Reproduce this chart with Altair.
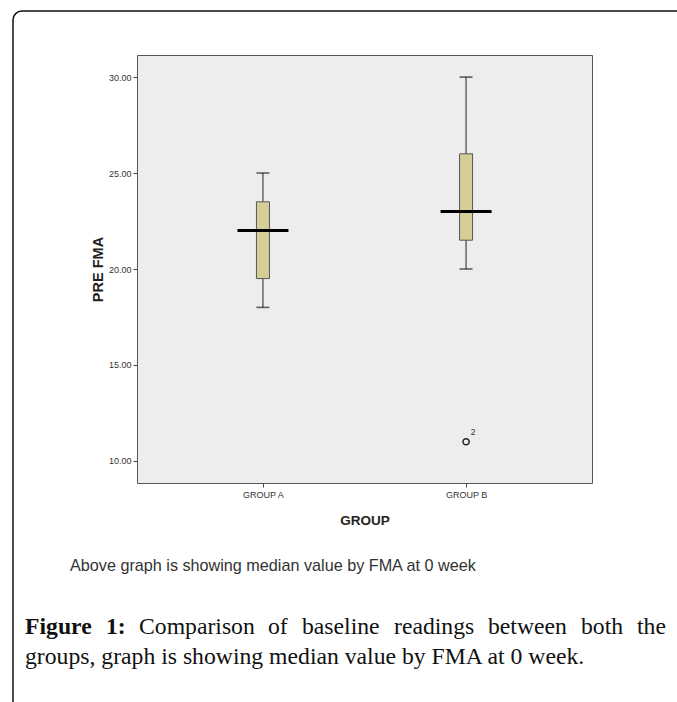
import altair as alt
import pandas as pd

# ---- data ----
groups = ["GROUP A", "GROUP B"]
whisker_low = [18.0, 20.0]
q1 = [19.5, 21.5]
median = [22.0, 23.0]
q3 = [23.5, 26.0]
whisker_high = [25.0, 30.0]

outlier_group = ["GROUP B"]
outlier_value = [11.0]
outlier_label = ["2"]

y_ticks = [10, 15, 20, 25, 30]

note_text = "Above graph is showing median value by FMA at 0 week"
fig_line1_bold = ["Figure", "1:"]
fig_line1_words = ["Comparison", "of", "baseline", "readings", "between", "both", "the"]
fig_line2 = "groups, graph is showing median value by FMA at 0 week."

# ---- tables ----
box_df = pd.DataFrame({
    "group": groups, "lo": whisker_low, "q1": q1, "med": median,
    "q3": q3, "hi": whisker_high,
})
out_df = pd.DataFrame({"group": outlier_group, "value": outlier_value, "label": outlier_label})
one = pd.DataFrame({"k": [0]})

W, H = 455, 428
BOX_FILL = "#d5ce96"
SERIF_SIZE = 23.7

x_enc = alt.X("group:N", scale=alt.Scale(type="point", padding=0.62, domain=groups),
              axis=alt.Axis(title="GROUP", labelAngle=0, labelFontSize=9, labelColor="#333",
                            labelFont="Liberation Sans", tickSize=4, tickColor="#444",
                            domain=False, labelPadding=3,
                            titleFont="Liberation Sans", titleFontSize=13.5, titleFontWeight="bold",
                            titleColor="#222", titleY=37, titleBaseline="middle"))
y_scale = alt.Scale(domain=[8.85, 31.15], nice=False, zero=False)
y_axis = alt.Axis(title="PRE FMA", values=y_ticks, format=".2f", labelFontSize=9,
                  labelColor="#333", labelFont="Liberation Sans", tickSize=4, tickColor="#444",
                  domain=False, grid=False, labelPadding=2,
                  titleFont="Liberation Sans", titleFontSize=14.5, titleFontWeight="bold",
                  titleColor="#222", titleAngle=270, titleX=-39, titleY=H / 2,
                  titleAlign="center", titleBaseline="middle")

base = alt.Chart(box_df)

whisker = base.mark_rule(color="#444", strokeWidth=1.2).encode(
    x=x_enc, y=alt.Y("lo:Q", scale=y_scale, axis=y_axis), y2="hi:Q")
cap_lo = base.mark_tick(color="#222", size=13, thickness=1.6).encode(x="group:N", y="lo:Q")
cap_hi = base.mark_tick(color="#222", size=13, thickness=1.6).encode(x="group:N", y="hi:Q")
box = base.mark_bar(size=13, fill=BOX_FILL, stroke="#555", strokeWidth=1).encode(
    x="group:N", y="q1:Q", y2="q3:Q")
med = base.mark_tick(color="#000", size=51, thickness=3, opacity=1).encode(x="group:N", y="med:Q")

outl = alt.Chart(out_df).mark_point(shape="circle", filled=False, size=38, color="#222",
                                    strokeWidth=1.5, opacity=1).encode(x="group:N", y="value:Q")
outl_lbl = alt.Chart(out_df).mark_text(fontSize=8.5, dx=7, dy=-10, color="#333",
                                       font="Liberation Sans").encode(
    x="group:N", y="value:Q", text="label:N")

# decorative frame of the figure panel
frame = alt.Chart(one).mark_rect(fillOpacity=0, stroke="#111", strokeWidth=1.5,
                                 cornerRadius=9).encode(
    x=alt.value(-124), x2=alt.value(563), y=alt.value(-44), y2=alt.value(665))

# captions (positions relative to the plot's top-left corner at 137,55)
texts = []
texts.append(alt.Chart(one).mark_text(text=note_text, align="left", baseline="middle",
                                      font="Liberation Sans", fontSize=16.2, color="#333").encode(
    x=alt.value(70 - 137), y=alt.value(566 - 55)))
bold_x = [25, 106]
for word, xx in zip(fig_line1_bold, bold_x):
    texts.append(alt.Chart(one).mark_text(text=word, align="left", baseline="middle",
                                          font="Liberation Serif", fontSize=SERIF_SIZE,
                                          fontWeight="bold", color="#111").encode(
        x=alt.value(xx - 137), y=alt.value(627 - 55)))
word_x = [139, 268, 302, 394, 488, 581, 637]
for word, xx in zip(fig_line1_words, word_x):
    texts.append(alt.Chart(one).mark_text(text=word, align="left", baseline="middle",
                                          font="Liberation Serif", fontSize=SERIF_SIZE,
                                          color="#111").encode(
        x=alt.value(xx - 137), y=alt.value(627 - 55)))
texts.append(alt.Chart(one).mark_text(text=fig_line2, align="left", baseline="middle",
                                      font="Liberation Serif", fontSize=SERIF_SIZE,
                                      color="#111").encode(
    x=alt.value(25 - 137), y=alt.value(657 - 55)))

chart = alt.layer(whisker, cap_lo, cap_hi, box, med, outl, outl_lbl, frame, *texts).properties(
    width=W, height=H,
    autosize=alt.AutoSizeParams(type="none"),
    padding={"left": 137, "top": 55, "right": 85, "bottom": 219},
    background="white",
).configure_view(fill="#ededed", stroke="#555", strokeWidth=1)

chart.save("out.html", embed_options={"renderer": "svg", "actions": False})
